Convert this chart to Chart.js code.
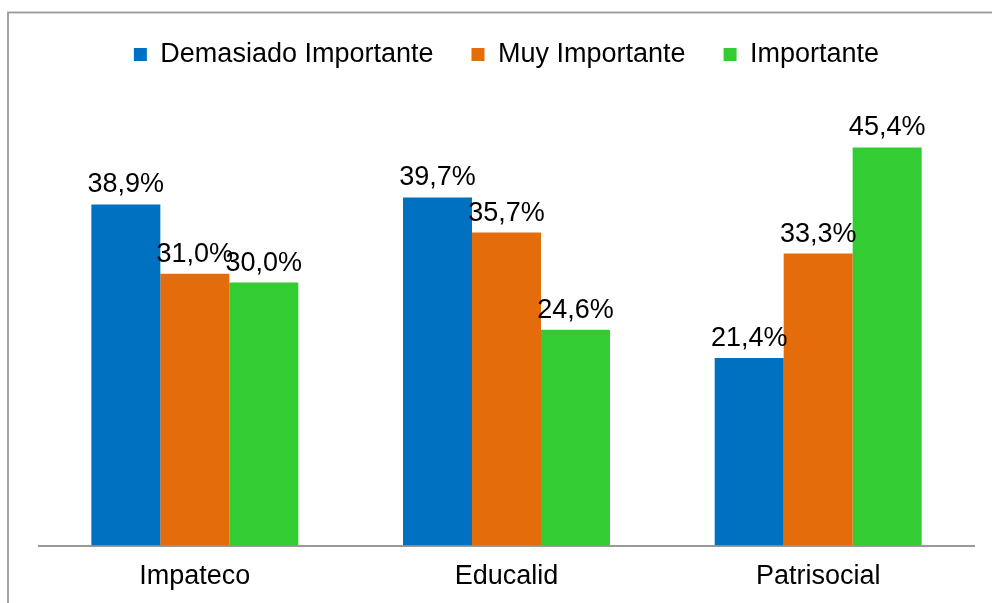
<!DOCTYPE html>
<html>
<head>
<meta charset="utf-8">
<script src="https://cdn.jsdelivr.net/npm/chart.js@4.4.1/dist/chart.umd.min.js"></script>
<style>
  html, body { margin: 0; padding: 0; background: #fff; }
  #wrap { position: relative; width: 992px; height: 603px; }
</style>
</head>
<body>
<div id="wrap"><canvas id="chart" width="992" height="603"></canvas></div>
<script>
// Datos del gráfico
const categories = ['Impateco', 'Educalid', 'Patrisocial'];
const seriesNames = ['Demasiado Importante', 'Muy Importante', 'Importante'];
const demasiadoImportante = [38.9, 39.7, 21.4];
const muyImportante = [31.0, 35.7, 33.3];
const importante = [30.0, 24.6, 45.4];

const colors = ['#0070C0', '#E46C0A', '#33CC33'];
const FONT = "'Liberation Sans', Arial, sans-serif";
const PX_PER_UNIT = 8.77; // escala medida en la imagen

Chart.defaults.font.family = FONT;
Chart.defaults.color = '#000';

// marco gris alrededor del gráfico
const framePlugin = {
    id: 'frame',
    beforeDraw(chart) {
        const ctx = chart.ctx;
        ctx.save();
        ctx.strokeStyle = '#9a9a9a';
        ctx.lineWidth = 1.8;
        ctx.strokeRect(8, 12.5, chart.width + 20, chart.height + 20);
        ctx.restore();
    }
};

// etiquetas de valor encima de cada barra
const valueLabels = {
    id: 'valueLabels',
    afterDatasetsDraw(chart) {
        const ctx = chart.ctx;
        ctx.save();
        ctx.font = `27px ${FONT}`;
        ctx.fillStyle = '#000';
        ctx.textAlign = 'center';
        ctx.textBaseline = 'alphabetic';
        chart.data.datasets.forEach((ds, i) => {
            chart.getDatasetMeta(i).data.forEach((bar, j) => {
                const txt = ds.data[j].toFixed(1).replace('.', ',') + '%';
                ctx.fillText(txt, bar.x, bar.y - 12);
            });
        });
        ctx.restore();
    }
};

const ctx = document.getElementById('chart').getContext('2d');
const chart = new Chart(ctx, {
    type: 'bar',
    data: {
        labels: categories,
        datasets: [
            { label: seriesNames[0], data: demasiadoImportante, backgroundColor: colors[0] },
            { label: seriesNames[1], data: muyImportante, backgroundColor: colors[1] },
            { label: seriesNames[2], data: importante, backgroundColor: colors[2] }
        ]
    },
    options: {
        responsive: false,
        animation: false,
        layout: { padding: { left: 39, right: 18, top: 3, bottom: -5 } },
        datasets: {
            bar: { categoryPercentage: 0.664, barPercentage: 1.0 }
        },
        scales: {
            x: {
                grid: { display: false, drawTicks: false },
                border: { display: true, color: '#999', width: 2 },
                ticks: { font: { size: 27 }, color: '#000', padding: 15 }
            },
            y: {
                display: false,
                min: 0,
                max: 53
            }
        },
        plugins: {
            legend: {
                position: 'top',
                labels: {
                    boxWidth: 13,
                    boxHeight: 13,
                    padding: 38,
                    font: { size: 27 },
                    color: '#000'
                }
            },
            tooltip: { enabled: false }
        }
    },
    plugins: [framePlugin, valueLabels]
});

// ajustar el máximo del eje para conservar la escala de la imagen
const area = chart.chartArea;
chart.options.scales.y.max = (area.bottom - area.top) / PX_PER_UNIT;
chart.update('none');
</script>
</body>
</html>
